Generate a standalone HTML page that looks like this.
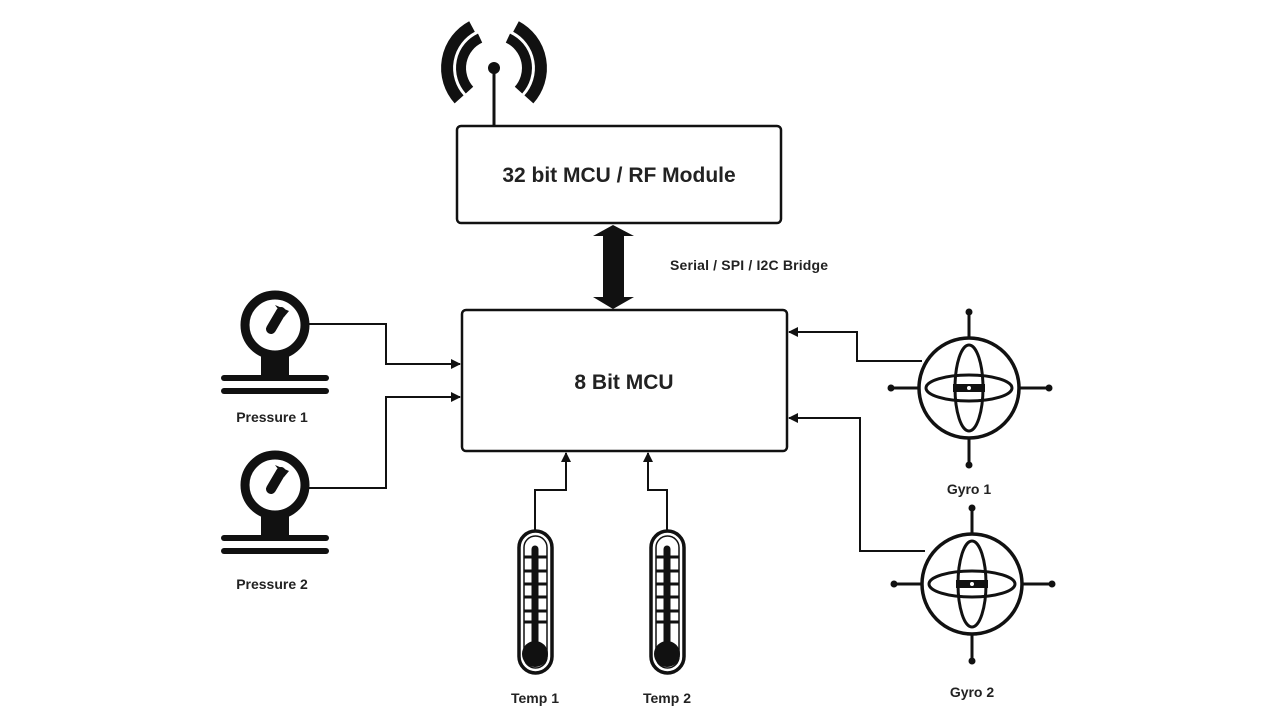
<!DOCTYPE html>
<html><head><meta charset="utf-8"><style>
html,body{margin:0;padding:0;background:#fff;}
svg{display:block;}
text{font-family:"Liberation Sans",sans-serif;font-weight:bold;fill:#222;}
</style></head><body>
<svg width="1280" height="721" viewBox="0 0 1280 721" xmlns="http://www.w3.org/2000/svg">
<defs>
<marker id="ah" markerWidth="10" markerHeight="10" refX="9" refY="5" orient="auto" markerUnits="userSpaceOnUse">
<path d="M0,0 L10,5 L0,10 z" fill="#111"/></marker>
<g id="gauge">
<circle cx="0" cy="0" r="30" fill="none" stroke="#111" stroke-width="9"/>
<line x1="-4" y1="4" x2="6" y2="-13" stroke="#111" stroke-width="10" stroke-linecap="round"/>
<path d="M0,-20 L14,-14 L9,-8 z" fill="#111"/>
<rect x="-14" y="30" width="28" height="21" fill="#111"/>
<rect x="-54" y="50" width="108" height="6" rx="3" fill="#111"/>
<rect x="-54" y="63" width="108" height="6" rx="3" fill="#111"/>
</g>
<g id="gyro" fill="none" stroke="#111" stroke-width="3.5">
<circle cx="0" cy="0" r="50"/>
<ellipse cx="0" cy="0" rx="14" ry="43" stroke-width="3"/>
<ellipse cx="0" cy="0" rx="43" ry="13" stroke-width="3"/>
<rect x="-16" y="-4" width="32" height="8" fill="#111" stroke="none"/>
<circle cx="0" cy="0" r="2" fill="#fff" stroke="none"/>
<line x1="0" y1="-50" x2="0" y2="-76" stroke-width="3"/>
<line x1="0" y1="50" x2="0" y2="77" stroke-width="3"/>
<line x1="-50" y1="0" x2="-78" y2="0" stroke-width="3"/>
<line x1="50" y1="0" x2="80" y2="0" stroke-width="3"/>
<circle cx="0" cy="-76" r="3.5" fill="#111" stroke="none"/>
<circle cx="0" cy="77" r="3.5" fill="#111" stroke="none"/>
<circle cx="-78" cy="0" r="3.5" fill="#111" stroke="none"/>
<circle cx="80" cy="0" r="3.5" fill="#111" stroke="none"/>
</g>
<g id="thermo">
<rect x="-16" y="0" width="33" height="142" rx="16.5" fill="none" stroke="#111" stroke-width="3.5"/>
<rect x="-11" y="5" width="23" height="132" rx="11.5" fill="none" stroke="#111" stroke-width="1.5"/>
<line x1="0" y1="18" x2="0" y2="115" stroke="#111" stroke-width="7" stroke-linecap="round"/>
<circle cx="0" cy="123" r="13" fill="#111"/>
<g stroke="#111" stroke-width="3">
<line x1="-11" y1="26" x2="12" y2="26"/><line x1="-11" y1="40" x2="12" y2="40"/>
<line x1="-11" y1="53" x2="12" y2="53"/><line x1="-11" y1="66" x2="12" y2="66"/>
<line x1="-11" y1="80" x2="12" y2="80"/><line x1="-11" y1="91" x2="12" y2="91"/>
</g>
</g>
</defs>

<!-- antenna -->
<g fill="none" stroke="#111">
<path d="M472,26.5 A47,47 0 0 0 459.1,99.4" stroke-width="12"/>
<path d="M516,26.5 A47,47 0 0 1 528.9,99.4" stroke-width="12"/>
<path d="M480.1,38.1 A33,33 0 0 0 469.5,90.1" stroke-width="10"/>
<path d="M507.9,38.1 A33,33 0 0 1 518.5,90.1" stroke-width="10"/>
</g>
<circle cx="494" cy="68" r="6" fill="#111"/>
<line x1="494" y1="68" x2="494" y2="126" stroke="#111" stroke-width="3"/>

<!-- boxes -->
<rect x="457" y="126" width="324" height="97" rx="4" fill="#fff" stroke="#111" stroke-width="2.5"/>
<text x="619" y="182" font-size="21" text-anchor="middle">32 bit MCU / RF Module</text>
<rect x="462" y="310" width="325" height="141" rx="4" fill="#fff" stroke="#111" stroke-width="2.5"/>
<text x="624" y="389" font-size="21" text-anchor="middle">8 Bit MCU</text>

<!-- bridge arrow -->
<path d="M613,225 L634,236 L624,236 L624,297 L634,297 L613,309 L593,297 L603,297 L603,236 L593,236 z" fill="#111"/>
<text x="670" y="270" font-size="14" textLength="158">Serial / SPI / I2C Bridge</text>

<!-- pressure -->
<use href="#gauge" x="275" y="325"/>
<use href="#gauge" x="275" y="485"/>
<text x="272" y="422" font-size="14" text-anchor="middle">Pressure 1</text>
<text x="272" y="589" font-size="14" text-anchor="middle">Pressure 2</text>
<g fill="none" stroke="#111" stroke-width="2">
<polyline points="308,324 386,324 386,364 460,364" marker-end="url(#ah)"/>
<polyline points="308,488 386,488 386,397 460,397" marker-end="url(#ah)"/>
<polyline points="922,361 857,361 857,332 789,332" marker-end="url(#ah)"/>
<polyline points="925,551 860,551 860,418 789,418" marker-end="url(#ah)"/>
<polyline points="535,530 535,490 566,490 566,453" marker-end="url(#ah)"/>
<polyline points="667,530 667,490 648,490 648,453" marker-end="url(#ah)"/>
</g>

<!-- gyros -->
<use href="#gyro" x="969" y="388"/>
<use href="#gyro" x="972" y="584"/>
<text x="969" y="494" font-size="14" text-anchor="middle">Gyro 1</text>
<text x="972" y="697" font-size="14" text-anchor="middle">Gyro 2</text>

<!-- thermometers -->
<use href="#thermo" x="535" y="531"/>
<use href="#thermo" x="667" y="531"/>
<text x="535" y="703" font-size="14" text-anchor="middle">Temp 1</text>
<text x="667" y="703" font-size="14" text-anchor="middle">Temp 2</text>
</svg>
</body></html>
